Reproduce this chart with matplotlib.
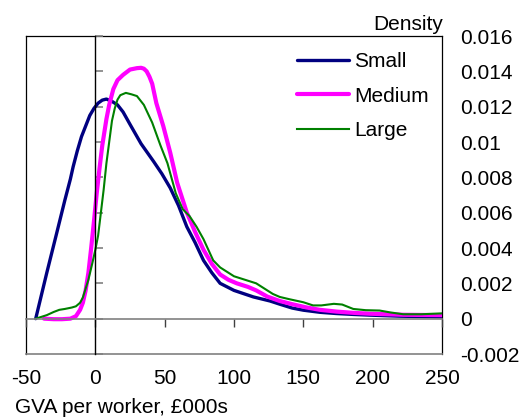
import matplotlib
matplotlib.use("Agg")
import matplotlib.pyplot as plt

plt.rcParams['font.family'] = ['Liberation Sans', 'DejaVu Sans']

# ---- data ----
small_x = [-43, -35, -28, -22, -18, -16, -13, -10, -7, -4, -1, 2, 5, 8, 12, 16, 20, 25, 33, 42,
           48, 54, 60, 66, 72, 78, 84, 90, 100, 114, 126, 133, 142, 150, 162, 174, 186, 198,
           220, 250]
small_y = [0, 0.0026, 0.0048, 0.0067, 0.0079, 0.0086, 0.0095, 0.0103, 0.0109, 0.0115, 0.0119,
           0.0122, 0.01237, 0.01243, 0.0123, 0.0121, 0.0117, 0.0110, 0.0099, 0.0089,
           0.0082, 0.0074, 0.0064, 0.0052, 0.0043, 0.0033, 0.0026, 0.0020, 0.0016, 0.00123,
           0.00100, 0.00082, 0.00060, 0.00048, 0.00036, 0.00029, 0.00024, 0.0002,
           0.00014, 0.0001]

medium_x = [-37, -30, -24, -18, -14, -11, -9, -7, -5, -3, -1, 1, 3, 5, 8, 10, 13, 16, 20, 25,
            30, 33, 35, 37, 39, 41, 44, 49, 54, 59, 66, 72, 78, 84, 90, 96, 102, 110, 116, 124,
            133, 142, 152, 162, 174, 186, 198, 222, 250]
medium_y = [0, -0.00003, -0.00003, 0, 0.00014, 0.0005, 0.0009, 0.0016, 0.0026, 0.0040, 0.0055,
            0.0071, 0.0085, 0.0098, 0.0113, 0.0121, 0.0130, 0.0135, 0.0138, 0.0141,
            0.01418, 0.0142, 0.01415, 0.0140, 0.0137, 0.0133, 0.0122, 0.0109, 0.0094, 0.0077,
            0.0060, 0.0049, 0.0039, 0.0031, 0.0025, 0.0022, 0.0020, 0.0018, 0.0016, 0.00125,
            0.0010, 0.00082, 0.00064, 0.0005, 0.0004, 0.00033, 0.00028, 0.00022, 0.0002]

large_x = [-43, -35, -30, -26, -22, -17, -14, -11, -9, -7, -5, -2, 0, 2, 4, 6, 8, 10, 12, 14,
           16, 18, 22, 26, 30, 35, 41, 47, 52, 58, 63, 68, 73, 78, 85, 90, 96, 100, 108, 116,
           122, 128, 133, 140, 150, 157, 163, 172, 178, 186, 195, 205, 213, 222, 235, 250]
large_y = [0, 0.0002, 0.00038, 0.0005, 0.00055, 0.00063, 0.0007, 0.0009, 0.0012, 0.0017, 0.0022,
           0.0032, 0.0039, 0.0047, 0.0060, 0.0073, 0.0088, 0.0100, 0.0112, 0.0119,
           0.0124, 0.01265, 0.01278, 0.0127, 0.0126, 0.0121, 0.0111, 0.0098, 0.0088, 0.0071,
           0.0062, 0.0058, 0.0052, 0.0045, 0.0033, 0.0029, 0.0026, 0.0024, 0.0022, 0.0020,
           0.0017, 0.0014, 0.00123, 0.0011, 0.00093, 0.00075, 0.00075, 0.00084, 0.0008, 0.00055,
           0.00048, 0.00046, 0.00035, 0.00025, 0.00025, 0.0003]

x_ticks = [-50, 0, 50, 100, 150, 200, 250]
y_ticks = [-0.002, 0, 0.002, 0.004, 0.006, 0.008, 0.01, 0.012, 0.014, 0.016]
y_labels = ['-0.002', '0', '0.002', '0.004', '0.006', '0.008', '0.01', '0.012', '0.014', '0.016']

FS = 15
fig = plt.figure(figsize=(5.28, 4.18), dpi=100)
pos = [26 / 528, (418 - 354) / 418, 416 / 528, 318 / 418]

# frame axes: box + labels
axb = fig.add_axes(pos)
axb.set_xlim(-50, 250)
axb.set_ylim(-0.002, 0.016)
axb.set_xticks(x_ticks)
axb.set_xticklabels([str(v) for v in x_ticks], fontsize=FS)
axb.set_yticks(y_ticks)
axb.set_yticklabels(y_labels, fontsize=FS)
axb.tick_params(axis='y', left=False, right=False, labelleft=False, labelright=True,
                length=0, pad=13)
axb.tick_params(axis='x', bottom=False, length=0, pad=11)
for s in ['top', 'left', 'right']:
    axb.spines[s].set_color('black')
    axb.spines[s].set_linewidth(0.9)
axb.spines['bottom'].set_color('#808080')
axb.spines['bottom'].set_linewidth(1.2)

# data axes with cross axes at zero
ax = fig.add_axes(pos, sharex=axb, sharey=axb)
ax.patch.set_visible(False)
ax.spines['top'].set_visible(False)
ax.spines['right'].set_visible(False)
ax.spines['left'].set_position(('data', 0))
ax.spines['bottom'].set_position(('data', 0))
ax.spines['left'].set_color('black')
ax.spines['left'].set_linewidth(1.0)
ax.spines['bottom'].set_color('#808080')
ax.spines['bottom'].set_linewidth(1.2)
ax.tick_params(axis='y', direction='in', length=6, width=1.2, color='#808080',
               labelleft=False, left=True)
ax.tick_params(axis='x', direction='out', length=6, width=1.0, color='#404040',
               labelbottom=False, bottom=True)

ax.plot(small_x, small_y, color='#000080', lw=2.4, label='Small', solid_capstyle='round')
ax.plot(medium_x, medium_y, color='#FF00FF', lw=3.0, label='Medium', solid_capstyle='round')
ax.plot(large_x, large_y, color='#008000', lw=1.5, label='Large')

ax.legend(loc='upper left', bbox_to_anchor=(0.652, 0.95), frameon=False, fontsize=FS,
          handlelength=2.5, handletextpad=0.25, labelspacing=0.75, borderpad=0,
          borderaxespad=0)

fig.text(443 / 528, (418 - 30) / 418, 'Density', ha='right', va='baseline', fontsize=FS)
fig.text(15 / 528, (418 - 413) / 418, 'GVA per worker, £000s', ha='left', va='baseline',
         fontsize=FS)

fig.savefig('out.png', dpi=100)
